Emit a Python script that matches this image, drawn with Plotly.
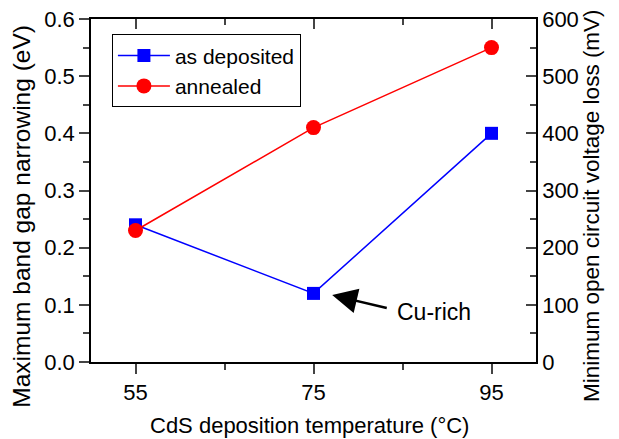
import plotly.graph_objects as go

temps = [55, 75, 95]
as_deposited = [0.24, 0.12, 0.40]
annealed = [0.23, 0.41, 0.55]
voc_loss = [230, 410, 550]  # right axis, mV

font = "Liberation Sans, Arial, sans-serif"

fig = go.Figure()
fig.add_trace(go.Scatter(name="as deposited", x=temps, y=as_deposited,
                         mode="lines+markers",
                         line=dict(color="#0000ff", width=1.5),
                         marker=dict(symbol="square", size=13, color="#0000ff")))
fig.add_trace(go.Scatter(name="annealed", x=temps, y=annealed,
                         mode="lines+markers",
                         line=dict(color="#ff0000", width=1.5),
                         marker=dict(symbol="circle", size=15, color="#ff0000")))
# invisible trace so the top and right axes get drawn
fig.add_trace(go.Scatter(x=temps, y=voc_loss, xaxis="x2", yaxis="y2",
                         mode="markers", marker=dict(opacity=0),
                         showlegend=False, hoverinfo="skip"))

tick_font = dict(family=font, size=22, color="black")

fig.update_layout(
    width=619, height=439,
    margin=dict(l=91, r=83, t=19, b=77),
    plot_bgcolor="white", paper_bgcolor="white",
    font=dict(family=font, size=22, color="black"),
    xaxis=dict(range=[50, 100], tickmode="linear", tick0=55, dtick=20,
               ticks="outside", ticklen=10, tickwidth=1.5, showgrid=False,
               zeroline=False, showline=True, linecolor="black", linewidth=1.5,
               tickfont=tick_font, automargin=False,
               minor=dict(tick0=55, dtick=10, ticks="outside", ticklen=6,
                          tickwidth=1.5, showgrid=False)),
    xaxis2=dict(range=[50, 100], overlaying="x", side="top", tickmode="linear",
                tick0=55, dtick=20, ticks="inside", ticklen=10, tickwidth=1.5,
                showticklabels=False, showgrid=False, zeroline=False,
                showline=True, linecolor="black", linewidth=1.5,
                automargin=False,
                minor=dict(tick0=55, dtick=10, ticks="inside", ticklen=6,
                           tickwidth=1.5, showgrid=False)),
    yaxis=dict(range=[0, 0.6], tickmode="linear", tick0=0, dtick=0.1,
               tickformat=".1f", ticks="outside", ticklen=10, tickwidth=1.5,
               showgrid=False, zeroline=False, showline=True, linecolor="black",
               linewidth=1.5, tickfont=tick_font, automargin=False,
               minor=dict(dtick=0.05, ticks="outside", ticklen=6, tickwidth=1.5,
                          showgrid=False)),
    yaxis2=dict(range=[0, 600], overlaying="y", side="right", anchor="x",
                tickmode="linear", tick0=0, dtick=100, ticks="inside",
                ticklen=10, tickwidth=1.5, showgrid=False, zeroline=False,
                showline=True, linecolor="black", linewidth=1.5,
                tickfont=tick_font, automargin=False,
                minor=dict(dtick=50, ticks="inside", ticklen=6, tickwidth=1.5,
                           showgrid=False)),
    legend=dict(x=0.047, y=0.955, xanchor="left", yanchor="top",
                bgcolor="white", bordercolor="black", borderwidth=1,
                itemwidth=52, font=dict(family=font, size=21)),
    showlegend=True,
)

# axis titles as annotations so they sit where the original puts them
fig.add_annotation(x=0.492, y=-0.184, xref="paper", yref="paper",
                   xanchor="center", yanchor="middle",
                   text="CdS deposition temperature (°C)", showarrow=False,
                   font=dict(family=font, size=22, color="black"))
fig.add_annotation(x=-0.157, y=0.424, xref="paper", yref="paper",
                   xanchor="center", yanchor="middle",
                   text="Maximum band gap narrowing (eV)", showarrow=False,
                   textangle=-90, font=dict(family=font, size=24.5, color="black"))
fig.add_annotation(x=1.126, y=0.455, xref="paper", yref="paper",
                   xanchor="center", yanchor="middle",
                   text="Minimum open circuit voltage loss (mV)", showarrow=False,
                   textangle=-90, font=dict(family=font, size=22.5, color="black"))

fig.add_annotation(x=77.1, y=0.117, ax=83.4, ay=0.094, axref="x", ayref="y",
                   xref="x", yref="y", text="", showarrow=True,
                   arrowhead=2, arrowsize=2, arrowwidth=2.5, arrowcolor="black")
fig.add_annotation(x=84.2, y=0.087, xref="x", yref="y", text="Cu-rich",
                   showarrow=False, xanchor="left",
                   font=dict(family=font, size=23, color="black"))

fig.write_html("out.html", config={"displayModeBar": False},
               post_script="document.body.style.margin='0';")
